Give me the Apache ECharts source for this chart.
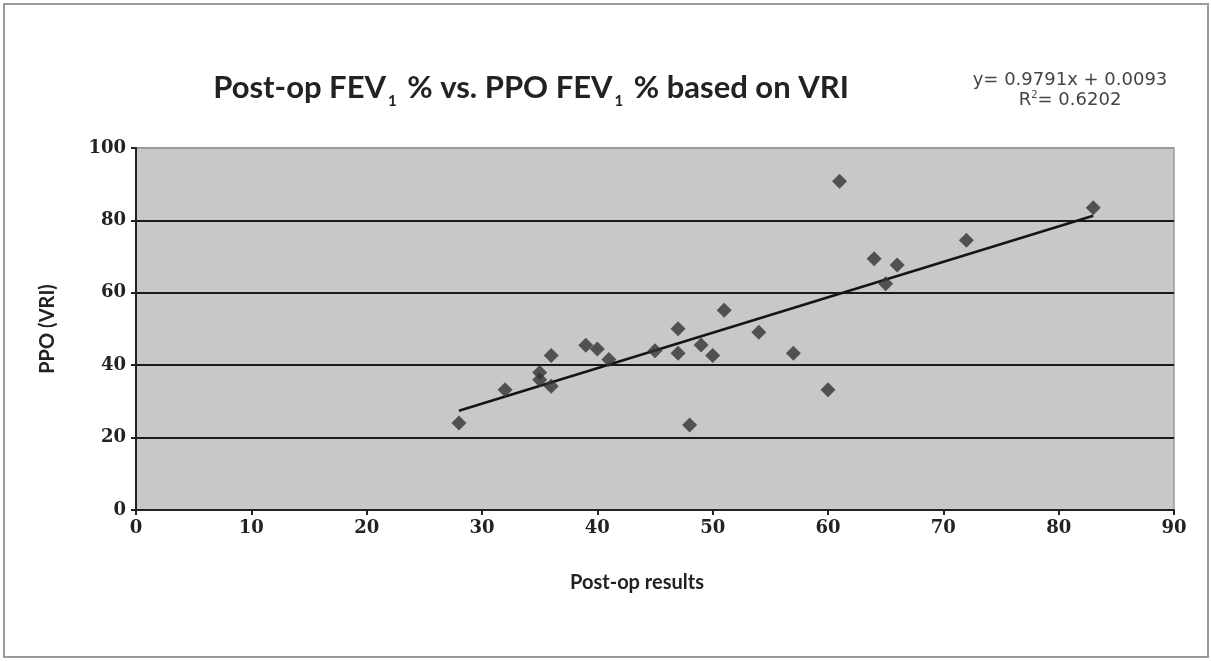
<!DOCTYPE html>
<html>
<head>
<meta charset="utf-8">
<title>Post-op FEV1 vs PPO FEV1</title>
<script src="https://cdn.jsdelivr.net/npm/echarts@6/dist/echarts.min.js"></script>
<style>
	html, body { margin: 0; padding: 0; background: #fff; }
	#main { width: 1211px; height: 661px; }
</style>
</head>
<body>
<div id="main"></div>
<script>
// measured points: post-op results (x) vs PPO based on VRI (y)
var postOp = [28, 32, 35, 35, 36, 36, 39, 40, 41, 45, 47, 47, 48, 49, 50, 51, 54, 57, 60, 61, 64, 65, 66, 72, 83];
var ppoVri = [24.0, 33.2, 38.0, 36.0, 34.2, 42.7, 45.5, 44.5, 41.6, 44.0, 50.1, 43.3, 23.5, 45.6, 42.7, 55.2, 49.1, 43.3, 33.2, 90.8, 69.4, 62.5, 67.7, 74.5, 83.5];
var xTicks = [0, 10, 20, 30, 40, 50, 60, 70, 80, 90];
var yTicks = [0, 20, 40, 60, 80, 100];
// linear trend from the chart
var slope = 0.9791;
var intercept = 0.0093;
var rSquared = 0.6202;

var chart = echarts.init(document.getElementById('main'));

var points = [];
for (var i = 0; i < postOp.length; i++) {
	points.push([postOp[i], ppoVri[i]]);
}
var xLo = Math.min.apply(null, postOp),
	xHi = Math.max.apply(null, postOp);
var trend = [[xLo, slope * xLo + intercept], [xHi, slope * xHi + intercept]];

var option = {
	backgroundColor: '#fff',
	animation: false,
	title: [{
		left: 526,
		top: 64,
		textAlign: 'center',
		text: '{a|Post-op FEV}{s|1}{a| % vs. PPO FEV}{s|1}{a| % based on VRI}',
		textStyle: {
			rich: {
				a: { fontFamily: 'Lato', fontWeight: 'bold', fontSize: 31, color: '#222', lineHeight: 38 },
				s: { fontFamily: 'Lato', fontWeight: 'bold', fontSize: 15, color: '#222', lineHeight: 38, padding: [26, 3, 0, 2] }
			}
		}
	}, {
		left: 1065,
		top: 65,
		textAlign: 'center',
		text: '{t|y= ' + slope + 'x + ' + intercept + '}\n{t|R}{p|2}{t|= ' + rSquared + '}',
		textStyle: {
			rich: {
				t: { fontFamily: 'DejaVu Sans', fontWeight: 'normal', fontSize: 18, color: '#444', lineHeight: 20 },
				p: { fontFamily: 'DejaVu Sans', fontWeight: 'normal', fontSize: 10, color: '#444', lineHeight: 20, padding: [0, 0, 10, 0] }
			}
		}
	}],
	grid: {
		left: 136,
		right: 37,
		top: 148,
		bottom: 151,
		show: true,
		backgroundColor: '#c8c8c8',
		borderColor: '#9a9a9a',
		borderWidth: 1.5
	},
	xAxis: {
		type: 'value',
		min: xTicks[0],
		max: xTicks[xTicks.length - 1],
		interval: xTicks[1] - xTicks[0],
		name: 'Post-op results',
		nameLocation: 'middle',
		nameGap: 63,
		nameTextStyle: {
			fontFamily: 'Lato', fontWeight: 'bold', fontSize: 20, color: '#222',
			padding: [0, 36, 0, 0]
		},
		axisLine: { lineStyle: { color: '#222', width: 2 } },
		axisTick: { show: true, length: 5, lineStyle: { color: '#222', width: 2 } },
		axisLabel: {
			margin: 9,
			fontFamily: 'DejaVu Serif', fontWeight: 'bold', fontSize: 18, color: '#222'
		},
		splitLine: { show: false }
	},
	yAxis: {
		type: 'value',
		min: yTicks[0],
		max: yTicks[yTicks.length - 1],
		interval: yTicks[1] - yTicks[0],
		name: 'PPO (VRI)',
		nameLocation: 'middle',
		nameGap: 78,
		nameTextStyle: { fontFamily: 'Lato', fontWeight: 'bold', fontSize: 20, color: '#222' },
		axisLine: { show: true, lineStyle: { color: '#222', width: 2 } },
		axisTick: { show: true, length: 5, lineStyle: { color: '#222', width: 2 } },
		axisLabel: {
			margin: 10,
			fontFamily: 'DejaVu Serif', fontWeight: 'bold', fontSize: 18, color: '#222'
		},
		splitLine: {
			show: true,
			lineStyle: { color: ['#222', '#1a1a1a', '#1a1a1a', '#1a1a1a', '#1a1a1a', '#9a9a9a'], width: 2 }
		}
	},
	graphic: [{
		type: 'rect',
		silent: true,
		z: -1,
		shape: { x: 4, y: 4, width: 1204, height: 653 },
		style: { fill: null, stroke: '#9a9a9a', lineWidth: 2 }
	}],
	series: [{
		type: 'line',
		data: trend,
		symbol: 'none',
		lineStyle: { color: '#151515', width: 2.5 },
		z: 3
	}, {
		type: 'scatter',
		data: points,
		symbol: 'diamond',
		symbolSize: 15,
		itemStyle: { color: '#333' },
		z: 4
	}]
};

chart.setOption(option);

window.onresize = function() {
	chart.resize();
};
</script>
</body>
</html>
